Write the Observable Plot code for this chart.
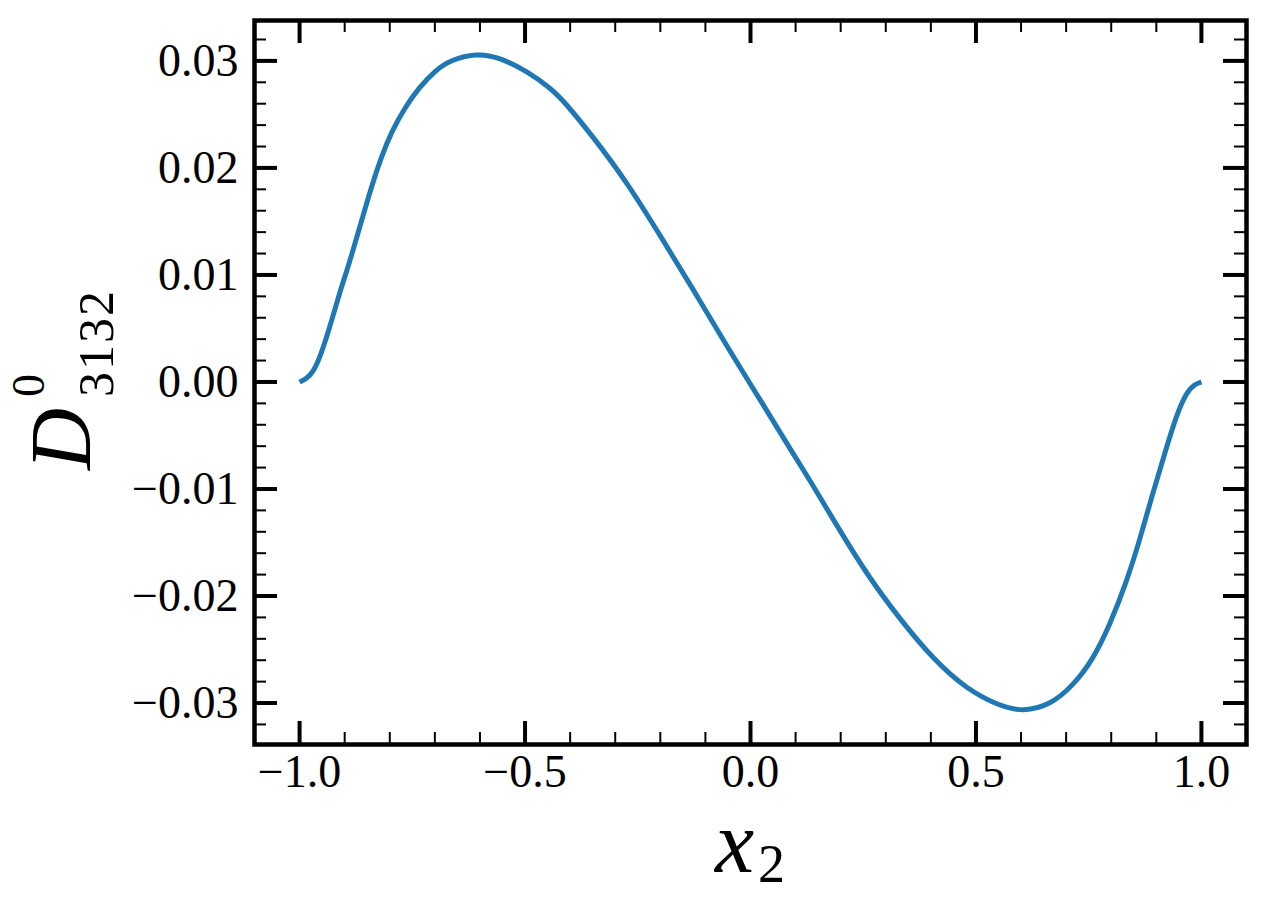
<!DOCTYPE html>
<html>
<head>
<meta charset="utf-8">
<script src="https://cdn.jsdelivr.net/npm/d3@7"></script>
<script src="https://cdn.jsdelivr.net/npm/@observablehq/plot@0.6"></script>
<style>
  html, body { margin: 0; padding: 0; background: #fff; }
  #chart svg { display: block; }
</style>
</head>
<body>
<div id="chart"></div>
<script>
// ---- data ----
const xValues = [
  -1.000, -0.985, -0.970, -0.955, -0.940, -0.925, -0.910, -0.896, -0.885, -0.863,
  -0.841, -0.819, -0.796, -0.767, -0.737, -0.700, -0.664, -0.608, -0.560, -0.494,
  -0.442, -0.413, -0.347, -0.273, -0.199, -0.125, -0.052, 0.022, 0.096, 0.129,
  0.184, 0.258, 0.332, 0.405, 0.479, 0.553, 0.605, 0.664, 0.715, 0.760,
  0.796, 0.833, 0.863, 0.892, 0.922, 0.944, 0.966, 0.985, 1.000
];
const yValues = [
  0.0000, 0.0003, 0.0009, 0.0023, 0.0042, 0.0063, 0.0085, 0.0103, 0.0118, 0.0150,
  0.0182, 0.0210, 0.0234, 0.0256, 0.0274, 0.0291, 0.0301, 0.0307, 0.0304, 0.0290,
  0.0274, 0.0262, 0.0228, 0.0186, 0.0136, 0.0085, 0.0033, -0.0017, -0.0068, -0.0090,
  -0.0129, -0.0180, -0.0222, -0.0259, -0.0287, -0.0303, -0.0308, -0.0302, -0.0284, -0.0259,
  -0.0228, -0.0188, -0.0148, -0.0104, -0.0062, -0.0032, -0.0010, -0.0002, 0.0000
];
const xMajorTicks = [-1.0, -0.5, 0.0, 0.5, 1.0];
const xMinorTicks = [-0.9, -0.8, -0.7, -0.6, -0.4, -0.3, -0.2, -0.1, 0.1, 0.2, 0.3, 0.4, 0.6, 0.7, 0.8, 0.9];
const yMajorTicks = [-0.03, -0.02, -0.01, 0.00, 0.01, 0.02, 0.03];
const yMinorTicks = [-0.032, -0.028, -0.026, -0.024, -0.022, -0.018, -0.016, -0.014, -0.012,
  -0.008, -0.006, -0.004, -0.002, 0.002, 0.004, 0.006, 0.008, 0.012, 0.014, 0.016, 0.018,
  0.022, 0.024, 0.026, 0.028, 0.032];
const xLabelMain = "x";
const xLabelSub = "2";
const yLabelMain = "D";
const yLabelSup = "0";
const yLabelSub = "3132";

// ---- layout ----
const W = 1265, H = 908;
const mT = 20, mB = 164, mL = 254, mR = 19;
const innerW = W - mL - mR;
const innerH = H - mT - mB;
const majorLen = 23, minorLen = 12;

const data = xValues.map((x, i) => ({x, y: yValues[i]}));
const xe = d3.extent(xValues), ye = d3.extent(yValues);
const xp = (xe[1] - xe[0]) * 0.05, yp = (ye[1] - ye[0]) * 0.05;

const serif = "'Liberation Serif', 'Times New Roman', serif";
const tickStyle = {stroke: "black"};
const plot = Plot.plot({
  width: W, height: H,
  marginTop: mT, marginBottom: mB, marginLeft: mL, marginRight: mR,
  x: {domain: [xe[0] - xp, xe[1] + xp]},
  y: {domain: [ye[0] - yp, ye[1] + yp]},
  style: {fontFamily: serif, fontSize: "46px", color: "black", background: "white"},
  marks: [
    Plot.line(data, {x: "x", y: "y", stroke: "#1f77b4", strokeWidth: 5, curve: "basis", strokeLinecap: "butt"}),
    // x ticks (inward, bottom & top)
    Plot.tickX(xMajorTicks, {x: d => d, insetTop: innerH - majorLen, strokeWidth: 4, ...tickStyle}),
    Plot.tickX(xMajorTicks, {x: d => d, insetBottom: innerH - majorLen, strokeWidth: 4, ...tickStyle}),
    Plot.tickX(xMinorTicks, {x: d => d, insetTop: innerH - minorLen, strokeWidth: 2, ...tickStyle}),
    Plot.tickX(xMinorTicks, {x: d => d, insetBottom: innerH - minorLen, strokeWidth: 2, ...tickStyle}),
    // y ticks (inward, left & right)
    Plot.tickY(yMajorTicks, {y: d => d, insetRight: innerW - majorLen, strokeWidth: 4, ...tickStyle}),
    Plot.tickY(yMajorTicks, {y: d => d, insetLeft: innerW - majorLen, strokeWidth: 4, ...tickStyle}),
    Plot.tickY(yMinorTicks, {y: d => d, insetRight: innerW - minorLen, strokeWidth: 2, ...tickStyle}),
    Plot.tickY(yMinorTicks, {y: d => d, insetLeft: innerW - minorLen, strokeWidth: 2, ...tickStyle}),
    Plot.axisX({ticks: xMajorTicks, tickSize: 0, tickPadding: 10, tickFormat: d3.format(".1f"), label: null, fontSize: 46}),
    Plot.axisY({ticks: yMajorTicks, tickSize: 0, tickPadding: 16, tickFormat: d3.format(".2f"), label: null, fontSize: 46}),
    Plot.frame({stroke: "black", strokeWidth: 4.5})
  ]
});

document.getElementById("chart").appendChild(plot);

// ---- axis titles ----
const svg = d3.select(plot);
const sx = plot.scale("x"), sy = plot.scale("y");
const xc = (sx.range[0] + sx.range[1]) / 2;
const yc = (sy.range[0] + sy.range[1]) / 2;

const xt = svg.append("text")
  .attr("x", xc).attr("y", H - 36)
  .attr("text-anchor", "middle")
  .style("font-family", serif)
  .attr("fill", "black");
xt.append("tspan").attr("font-style", "italic").attr("font-size", 88).text(xLabelMain);
xt.append("tspan").attr("font-size", 54).attr("dx", 4).attr("dy", 10).text(xLabelSub);

const yg = svg.append("g")
  .attr("transform", `translate(90,${yc + 88}) rotate(-90)`)
  .attr("text-anchor", "start")
  .style("font-family", serif)
  .attr("fill", "black");
yg.append("text").attr("x", 0).attr("y", 0).attr("text-anchor", "start").attr("font-style", "italic").attr("font-size", 86).text(yLabelMain);
yg.append("text").attr("x", 73).attr("y", -46).attr("text-anchor", "start").attr("font-size", 46).text(yLabelSup);
yg.append("text").attr("x", 73).attr("y", 23).attr("text-anchor", "start").attr("font-size", 50)
  .attr("textLength", 106).attr("lengthAdjust", "spacing").text(yLabelSub);
</script>
</body>
</html>
